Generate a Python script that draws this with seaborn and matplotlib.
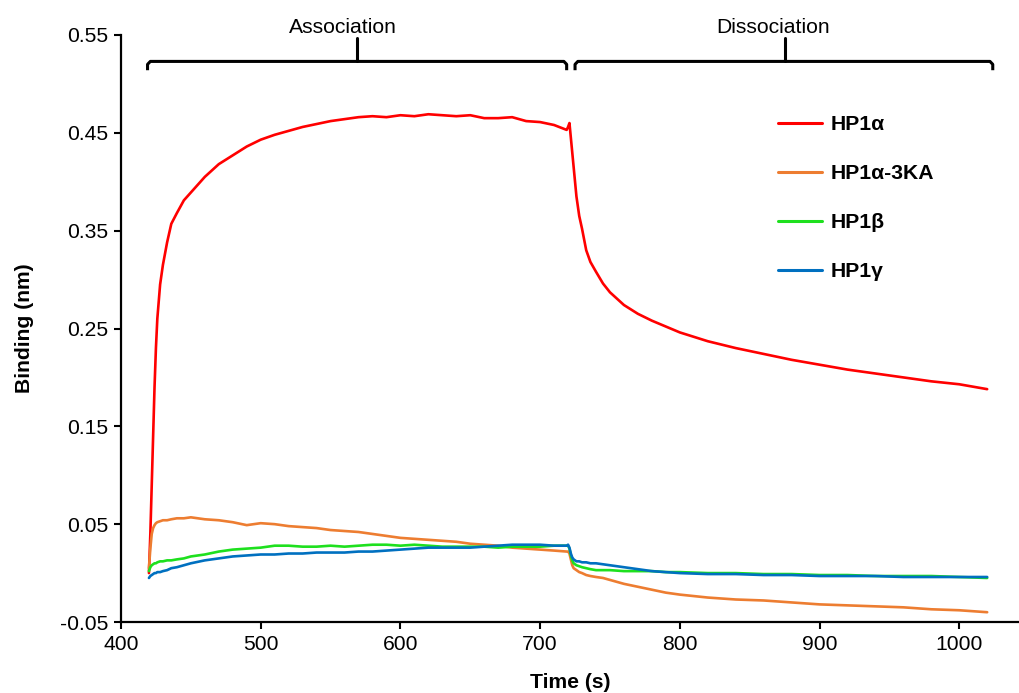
import numpy as np
import pandas as pd
import matplotlib
matplotlib.use("Agg")
import matplotlib.pyplot as plt
import seaborn as sns

# ---- data ----
time_s = [420, 421, 422, 423, 424, 425, 426, 428, 430, 433, 436, 440, 445, 450,
          460, 470, 480, 490, 500, 510, 520, 530, 540, 550, 560, 570, 580, 590,
          600, 610, 620, 630, 640, 650, 660, 670, 680, 690, 700, 710, 719, 720,
          721, 722, 723, 724, 726, 728, 730, 733, 736, 740, 745, 750, 760, 770,
          780, 790, 800, 820, 840, 860, 880, 900, 920, 940, 960, 980, 1000, 1020]

hp1a = [0.000, 0.040, 0.090, 0.140, 0.190, 0.230, 0.260, 0.295, 0.315, 0.338,
        0.357, 0.368, 0.381, 0.389, 0.405, 0.418, 0.427, 0.436, 0.443, 0.448,
        0.452, 0.456, 0.459, 0.462, 0.464, 0.466, 0.467, 0.466, 0.468, 0.467,
        0.469, 0.468, 0.467, 0.468, 0.465, 0.465, 0.466, 0.462, 0.461, 0.458,
        0.453, 0.456, 0.460, 0.445, 0.430, 0.415, 0.385, 0.365, 0.352, 0.330,
        0.318, 0.308, 0.296, 0.287, 0.274, 0.265, 0.258, 0.252, 0.246, 0.237,
        0.230, 0.224, 0.218, 0.213, 0.208, 0.204, 0.200, 0.196, 0.193, 0.188]

hp1a_3ka = [0.005, 0.025, 0.040, 0.046, 0.049, 0.051, 0.052, 0.053, 0.054, 0.054,
            0.055, 0.056, 0.056, 0.057, 0.055, 0.054, 0.052, 0.049, 0.051, 0.050,
            0.048, 0.047, 0.046, 0.044, 0.043, 0.042, 0.040, 0.038, 0.036, 0.035,
            0.034, 0.033, 0.032, 0.030, 0.029, 0.028, 0.026, 0.025, 0.024, 0.023,
            0.022, 0.022, 0.020, 0.014, 0.008, 0.005, 0.003, 0.001, 0.000, -0.002,
            -0.003, -0.004, -0.005, -0.007, -0.011, -0.014, -0.017, -0.020, -0.022, -0.025,
            -0.027, -0.028, -0.030, -0.032, -0.033, -0.034, -0.035, -0.037, -0.038, -0.040]

hp1b = [0.002, 0.006, 0.008, 0.009, 0.010, 0.010, 0.011, 0.012, 0.012, 0.013,
        0.013, 0.014, 0.015, 0.017, 0.019, 0.022, 0.024, 0.025, 0.026, 0.028,
        0.028, 0.027, 0.027, 0.028, 0.027, 0.028, 0.029, 0.029, 0.028, 0.029,
        0.028, 0.027, 0.027, 0.027, 0.027, 0.026, 0.027, 0.027, 0.027, 0.028,
        0.028, 0.028, 0.025, 0.018, 0.013, 0.010, 0.008, 0.007, 0.006, 0.005,
        0.004, 0.003, 0.003, 0.003, 0.002, 0.002, 0.002, 0.001, 0.001, 0.000,
        0.000, -0.001, -0.001, -0.002, -0.002, -0.003, -0.003, -0.003, -0.004, -0.005]

hp1g = [-0.005, -0.003, -0.002, -0.001, 0.000, 0.000, 0.001, 0.001, 0.002, 0.003,
        0.005, 0.006, 0.008, 0.010, 0.013, 0.015, 0.017, 0.018, 0.019, 0.019,
        0.020, 0.020, 0.021, 0.021, 0.021, 0.022, 0.022, 0.023, 0.024, 0.025,
        0.026, 0.026, 0.026, 0.026, 0.027, 0.028, 0.029, 0.029, 0.029, 0.028,
        0.028, 0.029, 0.026, 0.020, 0.016, 0.014, 0.012, 0.012, 0.011, 0.011,
        0.010, 0.010, 0.009, 0.008, 0.006, 0.004, 0.002, 0.001, 0.000, -0.001,
        -0.001, -0.002, -0.002, -0.003, -0.003, -0.003, -0.004, -0.004, -0.004, -0.004]

series_names = ["HP1α", "HP1α-3KA", "HP1β", "HP1γ"]
series_colors = ["#FF0000", "#ED7D31", "#1EE01E", "#0070C0"]
y_ticks = [-0.05, 0.05, 0.15, 0.25, 0.35, 0.45, 0.55]
x_ticks = [400, 500, 600, 700, 800, 900, 1000]
phase_labels = ["Association", "Dissociation"]

# ---- build long table ----
frames = []
for name, vals in zip(series_names, [hp1a, hp1a_3ka, hp1b, hp1g]):
    frames.append(pd.DataFrame({"Time (s)": time_s, "Binding (nm)": vals, "Sample": name}))
df = pd.concat(frames, ignore_index=True)

sns.set_theme(style="ticks")
plt.rcParams["font.family"] = ["Liberation Sans", "DejaVu Sans"]
plt.rcParams["text.color"] = "black"
plt.rcParams["axes.labelcolor"] = "black"

FS = 15.2

fig = plt.figure(figsize=(10.2, 6.93), dpi=100)
ax = fig.add_axes([121 / 1020, 71 / 693, 899 / 1020, 587 / 693])

sns.lineplot(data=df, x="Time (s)", y="Binding (nm)", hue="Sample",
             hue_order=series_names, palette=series_colors, linewidth=1.9,
             ax=ax, estimator=None, sort=False)

ax.set_xlim(400, 1043.5)
ax.set_ylim(-0.05, 0.55)
ax.set_xticks(x_ticks)
ax.set_yticks(y_ticks)
ax.set_yticklabels([f"{v:.2f}" for v in y_ticks])
ax.tick_params(axis="both", direction="out", length=5, width=1.5,
               labelsize=FS, colors="black", pad=4)
for s in ["left", "bottom"]:
    ax.spines[s].set_linewidth(1.6)
    ax.spines[s].set_color("black")
for s in ["right", "top"]:
    ax.spines[s].set_visible(False)

ax.set_xlabel("Time (s)", fontsize=FS, fontweight="bold", labelpad=14)
ax.set_ylabel("Binding (nm)", fontsize=FS, fontweight="bold", labelpad=19)

# ---- phase brackets ----
def bracket(x0, x1, xc, y=0.523, drop=0.009, top=0.547):
    r = 2.0
    xs = [x0, x0, x0 + r, x1 - r, x1, x1]
    ys = [y - drop, y - 0.003, y, y, y - 0.003, y - drop]
    ax.plot(xs, ys, color="black", lw=2.2, clip_on=False,
            solid_joinstyle="round", solid_capstyle="butt")
    ax.plot([xc, xc], [y, top], color="black", lw=2.2, clip_on=False)

bracket(419, 719, 569)
bracket(725, 1024, 875)
ax.text(559, 0.5575, phase_labels[0], ha="center", va="center", fontsize=FS, clip_on=False)
ax.text(867, 0.5575, phase_labels[1], ha="center", va="center", fontsize=FS, clip_on=False)

# ---- legend ----
handles, labels = ax.get_legend_handles_labels()
for h in handles:
    h.set_linewidth(2.2)
ax.legend(handles, labels, loc="upper left",
          bbox_to_anchor=(778 / 1020, 1 - 115 / 693), bbox_transform=fig.transFigure,
          frameon=False, borderpad=0, borderaxespad=0, handlelength=2.1,
          handletextpad=0.4, labelspacing=1.42,
          prop={"size": FS, "weight": "bold"})

fig.savefig("out.png", dpi=100)
